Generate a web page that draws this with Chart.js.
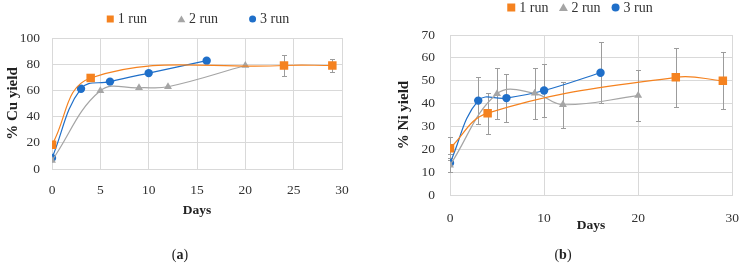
<!DOCTYPE html>
<html>
<head>
<meta charset="utf-8">
<script src="https://cdn.jsdelivr.net/npm/chart.js@4/dist/chart.umd.min.js"></script>
<style>
  body { margin: 0; background: #fff; }
  #wrap { position: relative; width: 754px; height: 267px; overflow: hidden; }
  canvas { position: absolute; top: 0; }
  .cap { position: absolute; top: 247px; font: 14px "Liberation Serif", serif; color: #222; transform: translateX(-50%); }
</style>
</head>
<body>
<div id="wrap">
  <canvas id="cuChart" width="377" height="267" style="left:0"></canvas>
  <canvas id="niChart" width="377" height="267" style="left:377px"></canvas>
  <div class="cap" style="left:180px">(<b>a</b>)</div>
  <div class="cap" style="left:563px">(<b>b</b>)</div>
</div>
<script>
// series labels
const runLabels = ["1 run", "2 run", "3 run"];

// (a) Cu yield
const cuRun1Days = [0, 4, 24, 29];
const cuRun1 = [18.5, 69.5, 79, 79];
const cuRun1Err = [0, 0, 8, 5.3];
const cuRun2Days = [0, 5, 9, 12, 20];
const cuRun2 = [6.5, 59.7, 62, 62.8, 79];
const cuRun2Err = [0, 0, 0, 0, 0];
const cuRun3Days = [0, 3, 6, 10, 16];
const cuRun3 = [8.4, 61.3, 66.7, 73.2, 82.7];
const cuRun3Err = [0, 0, 0, 0, 0];

// (b) Ni yield
const niRun1Days = [0, 4, 24, 29];
const niRun1 = [20.5, 35.8, 51.5, 50];
const niRun1Err = [5, 9, 13, 12.5];
const niRun2Days = [0, 5, 9, 12, 20];
const niRun2 = [13, 44.3, 44.5, 39.5, 43.5];
const niRun2Err = [3, 11.2, 11.2, 10, 11];
const niRun3Days = [0, 3, 6, 10, 16];
const niRun3 = [14, 41.3, 42.4, 45.7, 53.5];
const niRun3Err = [3.8, 10.3, 10.6, 11.5, 13.3];

const ORANGE = "#F5821F";
const GRAY = "#A5A5A5";
const BLUE = "#1F6FC9";
const GRID = "#D9D9D9";
const TEXT = "#333";
const SERIF = "'Liberation Serif', 'Times New Roman', serif";

const toPoints = (days, vals) => days.map((d, i) => ({ x: d, y: vals[i] }));

// vertical error bars, drawn through the chart's own scales
const errorBars = {
    id: "errorBars",
    beforeDatasetsDraw(chart) {
        const { ctx, scales: { x, y } } = chart;
        ctx.save();
        ctx.strokeStyle = "#9C9C9C";
        ctx.lineWidth = 1;
        chart.data.datasets.forEach(ds => {
            if (!ds.errors) { return; }
            ds.data.forEach((p, i) => {
                const e = ds.errors[i];
                if (!e) { return; }
                const px = Math.round(x.getPixelForValue(p.x)) + 0.5;
                const top = Math.round(y.getPixelForValue(p.y + e)) + 0.5;
                const bot = Math.round(y.getPixelForValue(p.y - e)) + 0.5;
                ctx.beginPath();
                ctx.moveTo(px, top); ctx.lineTo(px, bot);
                ctx.moveTo(px - 2.5, top); ctx.lineTo(px + 2.5, top);
                ctx.moveTo(px - 2.5, bot); ctx.lineTo(px + 2.5, bot);
                ctx.stroke();
            });
        });
        ctx.restore();
    }
};

// one-row legend that can sit off the plot centre like the original
const runLegend = {
    id: "runLegend",
    afterDraw(chart, args, opts) {
        const ctx = chart.ctx;
        ctx.save();
        ctx.font = "14px " + SERIF;
        ctx.textBaseline = "middle";
        const items = chart.data.datasets.map(ds => ({ ds, tw: ctx.measureText(ds.label).width }));
        const total = items.reduce((s, it) => s + opts.box + 4 + it.tw, 0) + opts.gap * (items.length - 1);
        let x = opts.cx - total / 2;
        items.forEach(it => {
            const style = it.ds.pointStyle;
            const r = style === "rect" ? opts.box / 1.414 : style === "triangle" ? opts.box / 1.55 : opts.box / 2;
            ctx.fillStyle = it.ds.backgroundColor;
            Chart.helpers.drawPoint(ctx, { pointStyle: style, radius: r, rotation: 0, borderWidth: 0 }, x + opts.box / 2, opts.y + (style === "triangle" ? 1 : 0));
            ctx.fillStyle = TEXT;
            ctx.fillText(it.ds.label, x + opts.box + 4, opts.y + 0.5);
            x += opts.box + 4 + it.tw + opts.gap;
        });
        ctx.restore();
    }
};

function makeDatasets(series) {
    const styles = [
        { color: ORANGE, pointStyle: "rect", radius: 6 },
        { color: GRAY, pointStyle: "triangle", radius: 4.6 },
        { color: BLUE, pointStyle: "circle", radius: 4.2 },
    ];
    return series.map((s, i) => ({
        label: runLabels[i],
        data: toPoints(s.days, s.vals),
        errors: s.errs,
        showLine: true,
        tension: 0.4,
        borderColor: styles[i].color,
        backgroundColor: styles[i].color,
        borderWidth: 1.2,
        pointStyle: styles[i].pointStyle,
        pointRadius: styles[i].radius,
        pointBorderWidth: 0,
        pointBackgroundColor: styles[i].color,
    }));
}

function makeChart(canvasId, cfg) {
    return new Chart(document.getElementById(canvasId), {
        type: "scatter",
        data: { datasets: makeDatasets(cfg.series) },
        options: {
            responsive: false,
            animation: false,
            layout: { padding: cfg.padding },
            plugins: {
                legend: { display: false },
                tooltip: { enabled: false },
                runLegend: cfg.legend,
            },
            scales: {
                x: {
                    type: "linear", min: 0, max: 30,
                    grid: { color: GRID, drawTicks: false },
                    border: { color: GRID },
                    ticks: { stepSize: cfg.xStep, padding: cfg.xTickPad, color: TEXT, font: { family: SERIF, size: 13.5 } },
                    title: { display: true, text: "Days", color: "#222", padding: 0, font: { family: SERIF, size: 13.5, weight: "bold" } },
                    afterFit: s => { s.height = cfg.xHeight; },
                },
                y: {
                    min: 0, max: cfg.yMax,
                    grid: { color: GRID, drawTicks: false },
                    border: { color: GRID },
                    ticks: { stepSize: cfg.yStep, padding: cfg.yTickPad, color: TEXT, font: { family: SERIF, size: 13.5 } },
                    title: { display: true, text: cfg.yTitle, color: "#222", padding: 0, font: { family: SERIF, size: 15, weight: "bold" } },
                    afterFit: s => { s.width = cfg.yWidth; },
                },
            },
        },
        plugins: [errorBars, runLegend],
    });
}

makeChart("cuChart", {
    series: [
        { days: cuRun1Days, vals: cuRun1, errs: cuRun1Err },
        { days: cuRun2Days, vals: cuRun2, errs: cuRun2Err },
        { days: cuRun3Days, vals: cuRun3, errs: cuRun3Err },
    ],
    padding: { left: 4, right: 35, top: 38, bottom: 48 },
    legend: { cx: 198, y: 19, gap: 31, box: 7 },
    xStep: 5, xTickPad: 13, xHeight: 50,
    yMax: 100, yStep: 20, yTickPad: 12, yWidth: 48,
    yTitle: "% Cu yield",
});

makeChart("niChart", {
    series: [
        { days: niRun1Days, vals: niRun1, errs: niRun1Err },
        { days: niRun2Days, vals: niRun2, errs: niRun2Err },
        { days: niRun3Days, vals: niRun3, errs: niRun3Err },
    ],
    padding: { left: 18, right: 9, top: 35, bottom: 33 },
    legend: { cx: 203, y: 7.5, gap: 11, box: 8 },
    xStep: 10, xTickPad: 15, xHeight: 39,
    yMax: 70, yStep: 10, yTickPad: 15, yWidth: 55,
    yTitle: "% Ni yield",
});
</script>
</body>
</html>
